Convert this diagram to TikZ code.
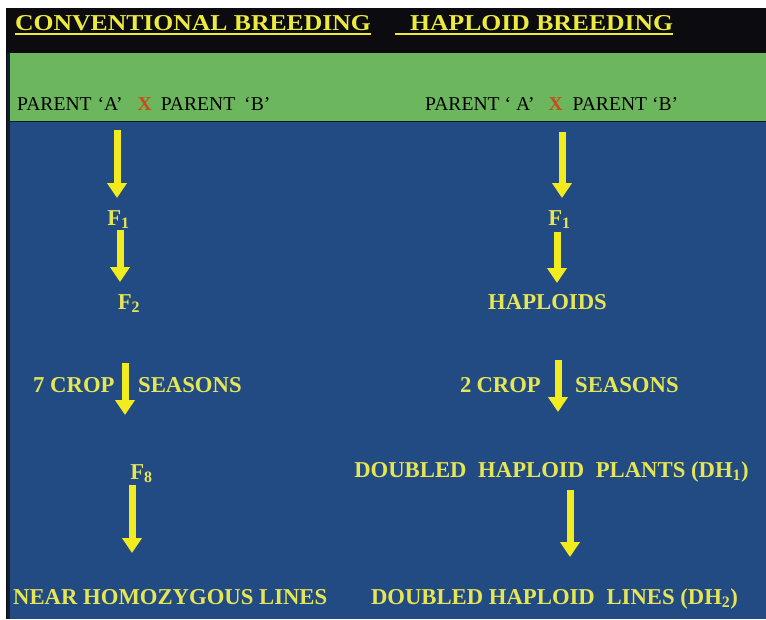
\documentclass[tikz,border=0pt]{standalone}
\usepackage{fontspec}
\usepackage{graphicx}
\setmainfont{Liberation Serif}
\usetikzlibrary{arrows.meta}

\definecolor{panelblack}{RGB}{12,12,16}
\definecolor{bandgreen}{RGB}{108,183,94}
\definecolor{fieldblue}{RGB}{34,75,131}
\definecolor{hdryellow}{RGB}{236,234,60}
\definecolor{txtyellow}{RGB}{230,230,84}
\definecolor{arryellow}{RGB}{242,236,30}
\definecolor{crossred}{RGB}{205,72,28}

\newcommand{\crossmark}{\textcolor{crossred}{\textbf{X}}}

\begin{document}
\begin{tikzpicture}[x=1pt,y=-1pt,
  hdr/.style={anchor=base west, inner sep=0pt, text=hdryellow,
    font=\fontsize{22.7}{26}\selectfont\bfseries},
  hdrline/.style={draw=hdryellow, line width=2pt},
  parent/.style={anchor=base west, inner sep=0pt, text=black,
    font=\fontsize{19.6}{23}\selectfont},
  lbl/.style={anchor=base, inner sep=0pt, text=txtyellow,
    font=\fontsize{22.7}{26}\selectfont\bfseries},
  lblw/.style={lbl, anchor=base west},
  flow/.style={draw=arryellow, line width=7pt,
    -{Triangle[width=19pt,length=15pt]}}
]
% page and panels
\fill[white] (0,0) rectangle (766,619);
\useasboundingbox (0,0) rectangle (766,619);
\fill[panelblack] (6,8) rectangle (766,619);
\fill[black!60!fieldblue] (7,53) rectangle (10,619);
\fill[bandgreen] (10,53) rectangle (766,121);
\fill[fieldblue] (10,122) rectangle (766,619);
\draw[black!70!fieldblue, line width=1pt] (10,121.5) -- (766,121.5);

% column headings
\node[hdr] (h1) at (15,30) {\scalebox{1.13}[1]{CONVENTIONAL BREEDING}};
\node[hdr] (h2) at (410,30) {\scalebox{1.13}[1]{HAPLOID BREEDING}};
\draw[hdrline] ([yshift=-4pt]h1.base west) -- ([yshift=-4pt]h1.base east);
\draw[hdrline] ([xshift=-15pt,yshift=-4pt]h2.base west) -- ([yshift=-4pt]h2.base east);

% crosses
\node[parent] (pl) at (17,110)
  {PARENT\hspace{6pt}`A'\hspace{15pt}\crossmark\hspace{9pt}PARENT\hspace{9pt}`B'};
\node[parent] (pr) at (425,110)
  {PARENT\hspace{5pt}` A'\hspace{14pt}\crossmark\hspace{10pt}PARENT\hspace{5pt}`B'};

% conventional breeding
\node[lbl]  (f1l) at (118.5,225.5) {F\textsubscript{1}};
\node[lbl]  (f2l) at (129,309.5) {F\textsubscript{2}};
\node[lblw] (c7)  at (33,392.5) {7 CROP};
\node[lblw] (s7)  at (138,392.5) {SEASONS};
\node[lbl]  (f8)  at (141.5,479.5) {F\textsubscript{8}};
\node[lblw] (nhl) at (13,604.5) {NEAR HOMOZYGOUS LINES};

% haploid breeding
\node[lbl]  (f1r) at (559.5,225.5) {F\textsubscript{1}};
\node[lbl]  (hap) at (547.5,309.5) {HAPLOIDS};
\node[lblw] (c2)  at (460,392.5) {2\hspace{5pt}CROP};
\node[lblw] (s2)  at (575,392.5) {SEASONS};
\node[lbl]  (dh1) at (551.5,477.5) {DOUBLED\hspace{6pt} HAPLOID\hspace{6pt} PLANTS (DH\textsubscript{1})};
\node[lbl]  (dh2) at (554.5,604.5) {DOUBLED HAPLOID\hspace{6pt} LINES (DH\textsubscript{2})};

% arrow end points
\coordinate (la1) at (117,130); \coordinate (lb1) at (117,198);
\coordinate (la2) at (120,230); \coordinate (lb2) at (120,282);
\coordinate (la3) at (125,363); \coordinate (lb3) at (125,415);
\coordinate (la4) at (132,485); \coordinate (lb4) at (132,553);
\coordinate (ra1) at (562,132); \coordinate (rb1) at (562,198);
\coordinate (ra2) at (557,232); \coordinate (rb2) at (557,283);
\coordinate (ra3) at (558,360); \coordinate (rb3) at (558,412);
\coordinate (ra4) at (570,490); \coordinate (rb4) at (570,557);

\draw[flow] (la1) -- (lb1);
\draw[flow] (la2) -- (lb2);
\draw[flow] (la3) -- (lb3);
\draw[flow] (la4) -- (lb4);
\draw[flow] (ra1) -- (rb1);
\draw[flow] (ra2) -- (rb2);
\draw[flow] (ra3) -- (rb3);
\draw[flow] (ra4) -- (rb4);
\end{tikzpicture}
\end{document}
